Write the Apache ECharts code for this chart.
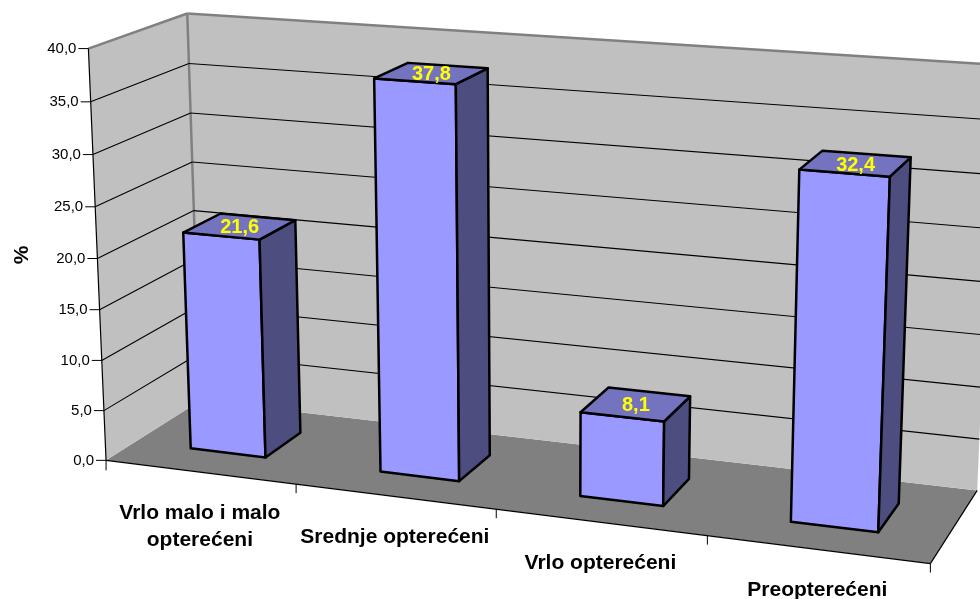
<!DOCTYPE html>
<html><head><meta charset="utf-8"><style>html,body{margin:0;background:#fff}#c{width:980px;height:599px}</style>
<script src="https://cdn.jsdelivr.net/npm/echarts@6/dist/echarts.min.js"></script></head><body><div id="c"></div>
<script>
const categories=['Vrlo malo i malo\nopterećeni','Srednje opterećeni','Vrlo opterećeni','Preopterećeni'];
const values=[21.6,37.8,8.1,32.4];
const valueTicks=[0,5,10,15,20,25,30,35,40];
const tickLabels=['0,0','5,0','10,0','15,0','20,0','25,0','30,0','35,0','40,0'];
const axisTitle='%';
// perspective camera of the 3D box (x: 0..1 along categories, y: 0..1 along values, z: 0 front..1 back)
const M=[0.745115,-0.021510,0.109777,0.108229,0.077180,-0.690575,-0.054861,0.768523,-0.101125,-0.038605,0.067009];
function P(x,y,z){x/=4;y/=40;const w=M[8]*x+M[9]*y+M[10]*z+1;return [980*(M[0]*x+M[1]*y+M[2]*z+M[3])/w,599*(M[4]*x+M[5]*y+M[6]*z+M[7])/w];}
const FF='"Liberation Sans",Arial,sans-serif';
const poly=(pts,fill,stroke,lw)=>({type:'polygon',shape:{points:pts},style:{fill,stroke:stroke||null,lineWidth:lw||0,lineJoin:'round'}});
const line=(a,b,c,lw)=>({type:'line',shape:{x1:a[0],y1:a[1],x2:b[0],y2:b[1]},style:{stroke:c,lineWidth:lw,fill:null}});
const base={type:'custom',coordinateSystem:'cartesian2d',clip:false,silent:true,animation:false};
const chart=echarts.init(document.getElementById('c'),null,{renderer:'canvas'});
// hidden scale: x = category position 0..4, y = value 0..40; its pixels are re-projected through the camera
function Q(api,x,v,z){const c=api.coord([x,v]);const s=api.size([4,40]);return P(c[0]/s[0]*4,40-c[1]/s[1]*40,z);}
chart.setOption({animation:false,backgroundColor:'#fff',
 grid:{left:0,top:0,width:980,height:599},
 xAxis:{type:'value',min:0,max:4,show:false},yAxis:{type:'value',min:0,max:40,show:false},
 series:[
 {...base,name:'walls',data:[[0,0]],renderItem:(p,api)=>{
   const q=(x,v,z)=>Q(api,x,v,z);
   return {type:'group',children:[
    poly([q(0,0,0),q(4,0,0),q(4,0,1),q(0,0,1)],'#808080'),
    poly([q(0,0,0),q(0,40,0),q(0,40,1),q(0,0,1)],'#c0c0c0'),
    poly([q(0,0,1),q(0,40,1),q(4,40,1),q(4,0,1)],'#c0c0c0'),
    line(q(0,40,0),q(0,40,1),'#808080',2.5),line(q(0,40,1),q(4,40,1),'#808080',2.5),line(q(0,40,1),q(0,0,1),'#808080',2.5),
    line(q(0,0,0),q(0,40,0),'#000',1.2),line(q(0,0,0),q(4,0,0),'#000',1.2),line(q(4,0,0),q(4,0,1),'#000',1.2),
   ]};}},
 {...base,name:'gridlines',data:valueTicks.map(v=>[0,v]),renderItem:(p,api)=>{
   const v=api.value(1);const kids=[];
   if(v>0&&v<40){kids.push(line(Q(api,0,v,0),Q(api,0,v,1),'#000',1.1),line(Q(api,0,v,1),Q(api,4,v,1),'#000',1.1));}
   return {type:'group',children:kids};}},
 {...base,name:'ticks',data:valueTicks.map((v,i)=>[i,v]),renderItem:(p,api)=>{
   const a=Q(api,0,api.value(1),0);const i=api.value(0);
   return {type:'group',children:[line([a[0]-10,a[1]],a,'#000',1),
    {type:'text',style:{x:a[0]-12,y:a[1]+.5,text:tickLabels[i],align:'right',verticalAlign:'middle',font:'15px '+FF,fill:'#000'}}]};}},
 {...base,name:'categories',data:categories.map((c,i)=>[i,0]),renderItem:(p,api)=>{
   const i=api.value(0);const c=Q(api,i+.5,0,0);const t=Q(api,i+1,0,0);const kids=[line(t,[t[0],t[1]+9],'#000',1),
    {type:'text',style:{x:c[0],y:c[1]+27.5,text:categories[i],align:'center',verticalAlign:'top',lineHeight:27,font:'bold 21px '+FF,fill:'#000'}}];
   if(i===0){const o=Q(api,0,0,0);kids.push(line(o,[o[0],o[1]+10],'#000',1));}
   return {type:'group',children:kids};}},
 {...base,name:'bars',data:values.map((v,i)=>[i,v]),renderItem:(p,api)=>{
   const i=api.value(0),v=api.value(1),a=i+.3,e=i+.7,n=.3,f=.7;
   const q=(x,y,z)=>Q(api,x,y,z);
   const T=[q(a,v,n),q(e,v,n),q(e,v,f),q(a,v,f)];
   const cx=T.reduce((s,t)=>s+t[0],0)/4,cy=T.reduce((s,t)=>s+t[1],0)/4;
   return {type:'group',children:[
    poly([q(a,0,n),q(e,0,n),q(e,v,n),q(a,v,n)],'#9999ff','#000',2.5),
    poly([q(e,0,n),q(e,0,f),q(e,v,f),q(e,v,n)],'#4d4d80','#000',2.5),
    poly(T,'#7373bf','#000',2.5),
    {type:'text',style:{x:cx,y:cy+1.5,text:String(v).replace('.',','),align:'center',verticalAlign:'middle',font:'bold 20px '+FF,fill:'#ffff00'}}]};}},
 {...base,name:'axisTitle',data:[[0,0]],renderItem:()=>({type:'text',x:22,y:255,rotation:Math.PI/2,style:{x:0,y:0,text:axisTitle,align:'center',verticalAlign:'middle',font:'bold 21px '+FF,fill:'#000'}})}
 ]});
</script></body></html>
